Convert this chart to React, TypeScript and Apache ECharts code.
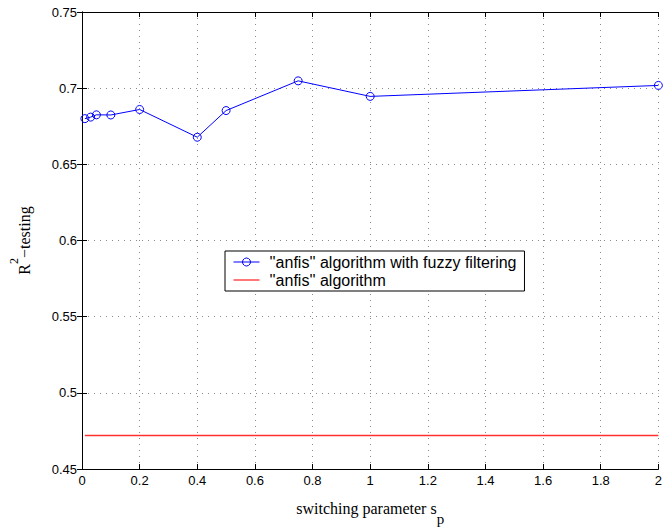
import React, { useEffect, useRef } from "react";
import * as echarts from "echarts";

const xTicks = [0, 0.2, 0.4, 0.6, 0.8, 1, 1.2, 1.4, 1.6, 1.8, 2];
const fuzzyX = [0.01, 0.03, 0.05, 0.1, 0.2, 0.4, 0.5, 0.75, 1, 2];
const fuzzyY = [0.68, 0.681, 0.6825, 0.6824, 0.686, 0.6678, 0.6853, 0.7048, 0.6946, 0.7018];
const plainX = [0.01, 2];
const plainY = [0.472, 0.472];
const seriesNames = ["''anfis'' algorithm with fuzzy filtering", "''anfis'' algorithm"];

const sans = "'Liberation Sans', Arial, Helvetica, sans-serif";
const serif = "'Liberation Serif', 'Times New Roman', serif";

export default function App() {
  const ref = useRef<HTMLDivElement>(null);
  useEffect(() => {
    if (!ref.current) return;
    const chart = echarts.init(ref.current, undefined, { renderer: "svg" });
    const grid = { left: 81, right: 2, top: 12, bottom: 59 };
    const split = { show: true, lineStyle: { color: "#8a8a8a", width: 1, type: [1, 5] as any } };
    const axisLine = { show: true, lineStyle: { color: "#000", width: 1 } };
    const tick = { show: true, inside: true, length: 5, lineStyle: { color: "#000" } };
    chart.setOption({
      animation: false,
      backgroundColor: "#fff",
      grid,
      legend: {
        left: 225,
        top: 251,
        orient: "vertical",
        backgroundColor: "#fff",
        borderColor: "#000",
        borderWidth: 1,
        borderRadius: 0,
        padding: [3, 8, 3, 8],
        itemWidth: 26,
        itemHeight: 10,
        itemGap: 2,
        lineStyle: { width: 1 },
        itemStyle: { borderWidth: 1 },
        textStyle: { fontFamily: sans, fontSize: 16, lineHeight: 16, color: "#000", padding: [0, 0, 0, 5] },
        data: [
          { name: seriesNames[0] },
          { name: seriesNames[1], icon: "path://M0,0H26V1.3H0Z", itemStyle: { color: "#ff3030" } },
        ],
      },
      xAxis: [
        {
          type: "value",
          min: 0,
          max: 2,
          interval: 0.2,
          axisLine,
          axisTick: tick,
          splitLine: split,
          axisLabel: { fontFamily: sans, fontSize: 13, color: "#000", margin: 5, showMaxLabel: true },
          name: "{a|switching parameter s}{b|p}",
          nameLocation: "middle",
          nameGap: 31,
          nameTextStyle: {
            rich: {
              a: { fontFamily: serif, fontSize: 16, color: "#000", lineHeight: 26, verticalAlign: "top" },
              b: { fontFamily: serif, fontSize: 15, color: "#000", lineHeight: 26, verticalAlign: "bottom" },
            },
          },
        },
        {
          type: "value",
          position: "top",
          min: 0,
          max: 2,
          interval: 0.2,
          axisLine,
          axisTick: tick,
          axisLabel: { show: false },
          splitLine: { show: false },
        },
      ],
      yAxis: [
        {
          type: "value",
          min: 0.45,
          max: 0.75,
          interval: 0.05,
          axisLine,
          axisTick: tick,
          splitLine: split,
          axisLabel: { fontFamily: sans, fontSize: 13, color: "#000", margin: 5 },
          name: "{a|R}{b|2}{a|−testing}",
          nameLocation: "middle",
          nameGap: 50,
          nameRotate: 90,
          nameTextStyle: {
            rich: {
              a: { fontFamily: serif, fontSize: 16, color: "#000", lineHeight: 24, verticalAlign: "bottom" },
              b: { fontFamily: serif, fontSize: 12, color: "#000", lineHeight: 24, verticalAlign: "top" },
            },
          },
        },
        {
          type: "value",
          position: "right",
          min: 0.45,
          max: 0.75,
          interval: 0.05,
          axisLine,
          axisTick: tick,
          axisLabel: { show: false },
          splitLine: { show: false },
        },
      ],
      series: [
        {
          name: seriesNames[0],
          type: "line",
          data: fuzzyX.map((x, i) => [x, fuzzyY[i]]),
          symbol: "circle",
          symbolSize: 8,
          itemStyle: { color: "rgba(255,255,255,0)", borderColor: "#0000ff", borderWidth: 1 },
          lineStyle: { color: "#0000ff", width: 1 },
          z: 3,
        },
        {
          name: seriesNames[1],
          type: "line",
          data: plainX.map((x, i) => [x, plainY[i]]),
          symbol: "none",
          color: "#ff3030",
          itemStyle: { color: "#ff3030" },
          lineStyle: { color: "#ff3030", width: 1.5 },
          z: 2,
        },
      ],
    });
    return () => chart.dispose();
  }, []);
  return <div ref={ref} style={{ width: 665, height: 531, position: "absolute", left: 0, top: 0 }} />;
}
